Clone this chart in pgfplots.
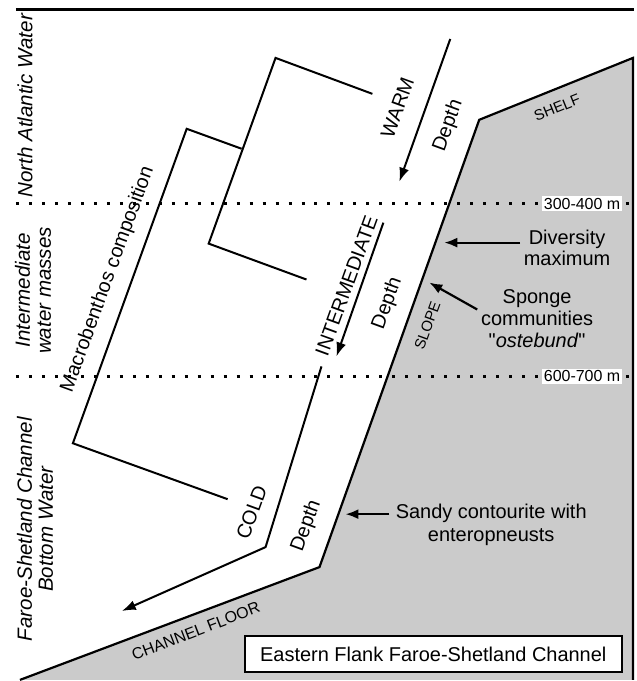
\documentclass[border=0pt]{standalone}
\usepackage{pgfplots}
\pgfplotsset{compat=1.18}
\usetikzlibrary{arrows.meta}
\usepackage{fontspec}
\setmainfont{Liberation Sans}[Ligatures=TeXOff]
\definecolor{seabed}{RGB}{203,203,203}
\begin{document}
\begin{tikzpicture}
\begin{axis}[x=0.5pt,y=0.5pt,xmin=0,xmax=638,ymin=0,ymax=681,hide axis,clip=false,
  every node/.style={font=\fontsize{10}{10.5}\selectfont}]
% frame of the picture (invisible)
\addplot[draw=none] coordinates {(0,0)(638,681)};
% seabed
\addplot[fill=seabed, draw=none] coordinates {(634,623)(480,561)(320,113)(20,0)(634,0)};
% dotted depth limits
\addplot[black, line width=1.5pt, dash pattern=on 1.5pt off 5pt] coordinates {(16,477)(634,477)};
\addplot[black, line width=1.5pt, dash pattern=on 1.5pt off 5pt] coordinates {(16,304)(634,304)};
% seabed outline
\addplot[black, line width=1.1pt] coordinates {(20,0)(320,113)(480,561)(634,623)(634,0)};
% top line
\addplot[black, line width=1.5pt] coordinates {(16,671)(635,671)};
% dendrogram
\addplot[black, line width=1pt] coordinates {(228,181)(73,237)(187,552)(242,532)};
\addplot[black, line width=1pt] coordinates {(307,401)(209,437)(276,623)(373,587)};
% depth arrows
\addplot[black, line width=1pt, -{Latex[length=7pt,width=5pt]}] coordinates {(451,642)(400,499)};
\addplot[black, line width=1pt, -{Latex[length=7pt,width=5pt]}] coordinates {(384,458)(337,324)};
\addplot[black, line width=1pt, -{Latex[length=7pt,width=5pt]}] coordinates {(322,314)(266,133)(122,69)};
% annotation arrows
\addplot[black, line width=1.1pt, -{Latex[length=6.5pt,width=5pt]}] coordinates {(521,438)(445,438)};
\addplot[black, line width=1.1pt, -{Latex[length=6.5pt,width=5pt]}] coordinates {(478,371)(430,398)};
\addplot[black, line width=1.1pt, -{Latex[length=6.5pt,width=5pt]}] coordinates {(390,166)(346,166)};
% depth labels
\node[fill=white, inner sep=1pt, font=\fontsize{8}{9}\selectfont] at (583,477) {300-400 m};
\node[fill=white, inner sep=1pt, font=\fontsize{8}{9}\selectfont] at (583,304) {600-700 m};
% water masses
\node[rotate=90, font=\itshape\fontsize{10.3}{10.5}\selectfont] at (25,575) {North Atlantic Water};
\node[rotate=90, align=center, font=\itshape\fontsize{10.3}{10.5}\selectfont] at (33,390) {Intermediate\\water masses};
\node[rotate=90, align=center, font=\itshape\fontsize{10.3}{10.5}\selectfont] at (35,151) {Faroe-Shetland Channel\\Bottom Water};
% rotated labels
\node[rotate=70] at (108,401) {Macrobenthos composition};
\node[rotate=70] at (398,573) {WARM};
\node[rotate=70] at (449,555) {Depth};
\node[rotate=70] at (347,395) {INTERMEDIATE};
\node[rotate=70] at (388,377) {Depth};
\node[rotate=70] at (252,168) {COLD};
\node[rotate=70] at (307,154) {Depth};
\node[rotate=70, font=\fontsize{7.5}{8}\selectfont] at (428,355) {SLOPE};
\node[rotate=22, font=\fontsize{7.5}{8}\selectfont] at (558,573) {SHELF};
\node[rotate=21, font=\fontsize{8}{8}\selectfont] at (196,49) {CHANNEL FLOOR};
% annotations
\node[align=center, font=\fontsize{10}{10.5}\selectfont] at (568,433) {Diversity\\maximum};
\node[align=center, font=\fontsize{10}{11}\selectfont] at (538,362) {Sponge\\communities\\"\textit{ostebund}"};
\node[align=center, font=\fontsize{10}{11.5}\selectfont] at (492,155) {Sandy contourite with\\enteropneusts};
% title box
\node[draw=black, line width=1pt, fill=white, minimum width=189pt, minimum height=18pt, inner sep=0pt] at (434,25.5) {Eastern Flank Faroe-Shetland Channel};
\end{axis}
\end{tikzpicture}
\end{document}
